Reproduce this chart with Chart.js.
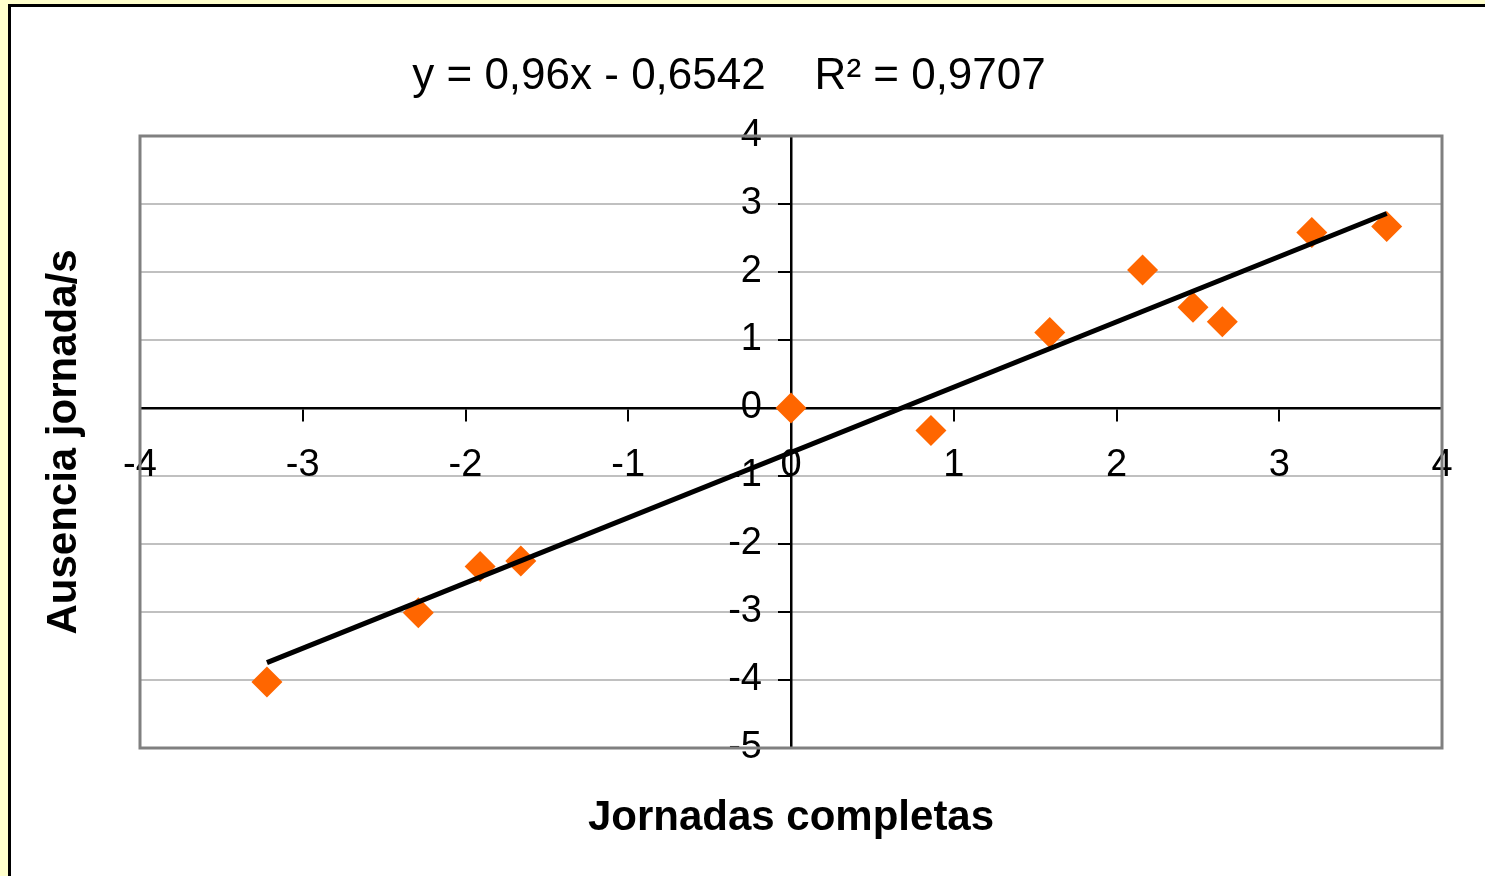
<!DOCTYPE html>
<html>
<head>
<meta charset="utf-8">
<script src="https://cdn.jsdelivr.net/npm/chart.js@4.4.1/dist/chart.umd.min.js"></script>
<style>
  html, body { margin: 0; padding: 0; }
  body { background: #FFFFCC; width: 1485px; height: 876px; overflow: hidden; position: relative; }
  #frame { position: absolute; left: 8px; top: 4px; width: 1520px; height: 920px; border: 3px solid #000; background: #FFFFFF; }
  #wrap { position: absolute; left: 0; top: 0; width: 1485px; height: 876px; }
</style>
</head>
<body>
<div id="frame"></div>
<div id="wrap"><canvas id="c"></canvas></div>
<script>
// ---- data ----
const xValues = [-3.22, -2.29, -1.91, -1.66, 0.00, 0.86, 1.59, 2.16, 2.47, 2.65, 3.20, 3.66];
const yValues = [-4.03, -3.01, -2.33, -2.25, 0.00, -0.33, 1.11, 2.03, 1.48, 1.27, 2.58, 2.67];
// linear trendline endpoints (y = 0,96x - 0,6542 from min x to max x)
const trendX = [-3.22, 3.66];
const trendY = [-3.745, 2.860];
const xTickLabels = ['-4', '-3', '-2', '-1', '0', '1', '2', '3', '4'];
const yTickLabels = ['-5', '-4', '-3', '-2', '-1', '0', '1', '2', '3', '4'];
const titleText = 'y = 0,96x - 0,6542    R² = 0,9707';
const xTitle = 'Jornadas completas';
const yTitle = 'Ausencia jornada/s';

const pointData = xValues.map((x, i) => ({ x: x, y: yValues[i] }));
const trendData = trendX.map((x, i) => ({ x: x, y: trendY[i] }));

const SANS = "'Liberation Sans', Arial, sans-serif";

const plotBorder = {
  id: 'plotBorder',
  beforeDatasetsDraw(chart) {
    const { ctx, chartArea: a } = chart;
    ctx.save();
    ctx.strokeStyle = '#808080';
    ctx.lineWidth = 3;
    ctx.strokeRect(a.left, a.top, a.right - a.left, a.bottom - a.top);
    ctx.restore();
  }
};

new Chart(document.getElementById('c'), {
  type: 'scatter',
  data: {
    datasets: [
      {
        label: 'Tendencia',
        data: trendData,
        showLine: true,
        borderColor: '#000000',
        borderWidth: 5,
        pointRadius: 0,
        fill: false,
        order: 0
      },
      {
        label: 'Datos',
        data: pointData,
        pointStyle: 'rectRot',
        pointRadius: 15.5,
        pointHoverRadius: 15.5,
        backgroundColor: '#FF6600',
        borderColor: '#FF6600',
        borderWidth: 0,
        order: 1
      }
    ]
  },
  options: {
    responsive: true,
    maintainAspectRatio: false,
    animation: false,
    events: [],
    layout: { padding: { left: 16, right: 43, top: 0, bottom: 0 } },
    plugins: {
      legend: { display: false },
      tooltip: { enabled: false },
      title: {
        display: true,
        text: titleText,
        color: '#000000',
        font: { family: SANS, size: 44, weight: 'normal', lineHeight: 1.2 },
        padding: { top: 50.6, bottom: 32.6 }
      }
    },
    scales: {
      x: {
        type: 'linear',
        position: { y: 0 },
        min: -4,
        max: 4,
        ticks: {
          stepSize: 1,
          autoSkip: false,
          maxRotation: 0,
          padding: 23,
          color: '#000000',
          font: { family: SANS, size: 38 },
          callback: (v, i) => xTickLabels[i]
        },
        grid: {
          display: true,
          drawOnChartArea: false,
          drawTicks: true,
          tickLength: 12,
          tickColor: '#000000',
          tickWidth: 2,
          lineWidth: 2
        },
        border: { display: true, color: '#000000', width: 2.5 }
      },
      y: {
        type: 'linear',
        position: 'center',
        min: -5,
        max: 4,
        ticks: {
          stepSize: 1,
          autoSkip: false,
          padding: 17,
          color: '#000000',
          font: { family: SANS, size: 38 },
          callback: (v, i) => yTickLabels[i]
        },
        grid: {
          display: true,
          drawOnChartArea: true,
          drawTicks: true,
          tickLength: 12,
          color: (c) => (c.tick && c.tick.value === 0) ? 'rgba(0,0,0,0)' : '#C0C0C0',
          tickColor: '#000000',
          tickWidth: 2,
          lineWidth: 2
        },
        border: { display: true, color: '#000000', width: 2.5 }
      },
      x2: {
        type: 'linear',
        axis: 'x',
        position: 'bottom',
        display: true,
        min: 0,
        max: 1,
        ticks: { display: false },
        grid: { display: false, drawTicks: false },
        border: { display: false },
        title: {
          display: true,
          text: xTitle,
          color: '#000000',
          font: { family: SANS, size: 42, weight: 'bold', lineHeight: 1.2 },
          padding: { top: 44.8, bottom: 32.8 }
        }
      },
      y2: {
        type: 'linear',
        axis: 'y',
        position: 'left',
        display: true,
        min: 0,
        max: 1,
        ticks: { display: false },
        grid: { display: false, drawTicks: false },
        border: { display: false },
        title: {
          display: true,
          text: yTitle,
          color: '#000000',
          font: { family: SANS, size: 42, weight: 'bold', lineHeight: 1.2 },
          padding: { top: 22.8, bottom: 50.8 }
        }
      }
    }
  },
  plugins: [plotBorder]
});
</script>
</body>
</html>
